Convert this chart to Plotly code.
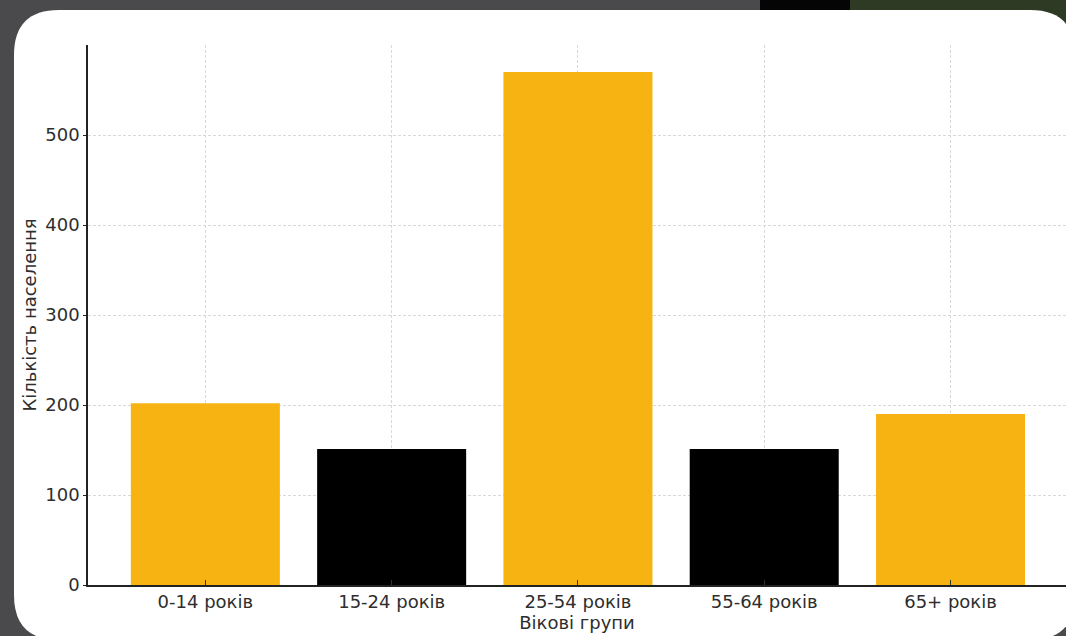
import plotly.graph_objects as go

categories = ["0-14 років", "15-24 років", "25-54 років", "55-64 років", "65+ років"]
values = [202, 151, 570, 151, 190]
bar_colors = ["#F6B311", "#000000", "#F6B311", "#000000", "#F6B311"]
y_ticks = [0, 100, 200, 300, 400, 500]

W, H = 1066, 636
L, R, T, B = 88, 0, 45, 51
PW, PH = W - L - R, H - T - B


def px(x):
    return (x - L) / PW


def py(y):
    return (H - B - y) / PH


def pt(x, y):
    return f"{px(x):.5f},{py(y):.5f}"


# rounded white panel (pixel geometry)
x0, y0, x1, y1, r = 14, 10, 1075, 640, 45
panel = (
    f"M {pt(x0, y0 + r)} Q {pt(x0, y0)} {pt(x0 + r, y0)} "
    f"L {pt(x1 - r, y0)} Q {pt(x1, y0)} {pt(x1, y0 + r)} "
    f"L {pt(x1, y1 - r)} Q {pt(x1, y1)} {pt(x1 - r, y1)} "
    f"L {pt(x0 + r, y1)} Q {pt(x0, y1)} {pt(x0, y1 - r)} Z"
)

fig = go.Figure(
    go.Bar(
        x=categories,
        y=values,
        marker=dict(color=bar_colors, line=dict(width=0)),
        width=0.8,
    )
)

shapes = [
    dict(type="rect", xref="paper", yref="paper", x0=px(760), x1=px(850), y0=py(0), y1=py(12),
         fillcolor="#050505", line=dict(width=0), layer="below"),
    dict(type="rect", xref="paper", yref="paper", x0=px(850), x1=px(1070), y0=py(0), y1=py(60),
         fillcolor="#2e3a24", line=dict(width=0), layer="below"),
    dict(type="path", xref="paper", yref="paper", path=panel,
         fillcolor="#ffffff", line=dict(width=0), layer="below"),
]

font = "DejaVu Sans, Verdana, sans-serif"
FS = 18
TXT = "#2e2e2e"

fig.update_layout(
    width=W,
    height=H,
    margin=dict(l=L, r=R, t=T, b=B, pad=0),
    paper_bgcolor="#4a4a4d",
    plot_bgcolor="rgba(0,0,0,0)",
    showlegend=False,
    shapes=shapes,
    font=dict(family=font, size=FS, color=TXT),
    xaxis=dict(
        type="category",
        range=[-0.63, 4.62],
        showline=True,
        linecolor="#222222",
        linewidth=1.5,
        ticks="inside",
        ticklen=5,
        tickcolor="#333333",
        showgrid=True,
        gridcolor="#d8d8d8",
        griddash="3px,2px",
        gridwidth=1,
        title=dict(text="Вікові групи", font=dict(size=FS, color=TXT), standoff=0),
        tickfont=dict(size=FS, color=TXT),
        zeroline=False,
    ),
    yaxis=dict(
        range=[0, 600],
        tickvals=y_ticks,
        showline=True,
        linecolor="#222222",
        linewidth=1.5,
        ticks="outside",
        ticklen=3,
        tickcolor="#222222",
        showgrid=True,
        gridcolor="#d8d8d8",
        griddash="3px,2px",
        gridwidth=1,
        zeroline=False,
        title=dict(text="Кількість населення", font=dict(size=FS, color=TXT), standoff=4),
        tickfont=dict(size=FS, color=TXT),
    ),
)

fig.write_html("out.html")
